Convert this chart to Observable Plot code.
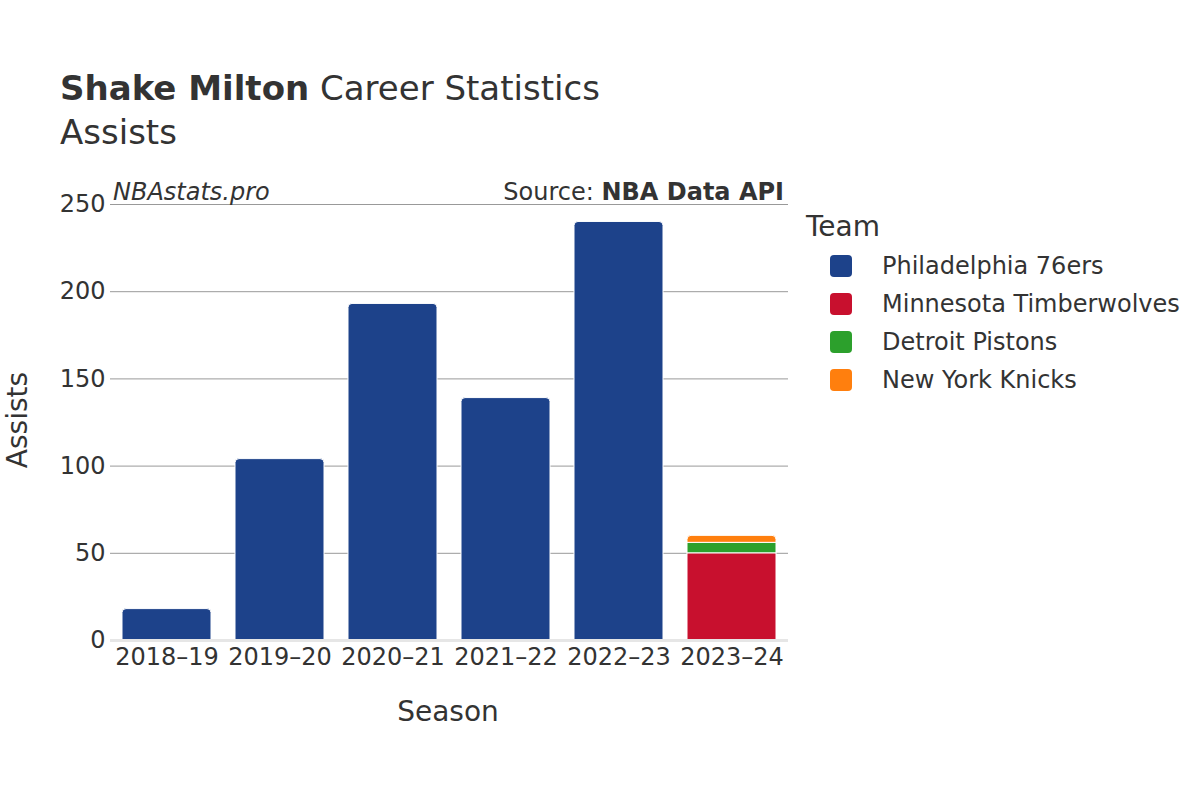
<!DOCTYPE html>
<html><head><meta charset="utf-8">
<script src="https://cdn.jsdelivr.net/npm/d3@7"></script>
<script src="https://cdn.jsdelivr.net/npm/@observablehq/plot@0.6"></script>
<style>
body{margin:0;background:#fff;font-family:"DejaVu Sans",sans-serif;}
#wrap{position:relative;width:1200px;height:800px;}
</style></head><body><div id="wrap"></div>
<script>
const seasons = ["2018–19","2019–20","2020–21","2021–22","2022–23","2023–24"];
const teams = ["Philadelphia 76ers","Minnesota Timberwolves","Detroit Pistons","New York Knicks"];
const teamColors = ["#1D428A","#C8102E","#2CA02C","#FF7F0E"];
const rowSeason = ["2018–19","2019–20","2020–21","2021–22","2022–23","2023–24","2023–24","2023–24"];
const rowTeam = ["Philadelphia 76ers","Philadelphia 76ers","Philadelphia 76ers","Philadelphia 76ers","Philadelphia 76ers","Minnesota Timberwolves","Detroit Pistons","New York Knicks"];
const rowAssists = [18,104,193,139,240,50,6,4];
const yTicks = [0,50,100,150,200,250];

// manual stacking (in input order) so rounded tops can be applied to the top segment only
const base = {};
const data = rowSeason.map((s,i)=>{
  const y1 = base[s] || 0, y2 = y1 + rowAssists[i];
  base[s] = y2;
  return {season:s, team:rowTeam[i], assists:rowAssists[i], y1, y2, top: rowSeason.lastIndexOf(s) === i};
});

const ink = "#333";
const plot = Plot.plot({
  width:1200, height:800,
  marginLeft:110, marginRight:412, marginTop:204, marginBottom:160,
  style:{fontFamily:"DejaVu Sans", fontSize:"24px", color:ink, background:"white"},
  x:{domain:seasons, paddingInner:0.21, paddingOuter:0.1, label:null},
  y:{domain:[0,250], label:null},
  color:{domain:teams, range:teamColors},
  marks:[
    Plot.gridY(yTicks, {stroke:"#999", strokeOpacity:1, strokeWidth:1}),
    Plot.barY(data.filter(d=>!d.top), {x:"season", y1:"y1", y2:"y2", fill:"team", stroke:"white", strokeWidth:1}),
    Plot.barY(data.filter(d=>d.top), {x:"season", y1:"y1", y2:"y2", fill:"team", stroke:"white", strokeWidth:1, ry1:4}),
    Plot.ruleY([0], {stroke:"#e6e6e6", strokeWidth:3}),
    Plot.axisY({ticks:yTicks, tickSize:0, tickPadding:5, fontSize:24, label:null}),
    Plot.axisX({tickSize:0, tickPadding:7, fontSize:24, label:null})
  ]
});
document.getElementById("wrap").appendChild(plot);

const svg = d3.select(plot);
function txt(x,y,str,opts={}){
  const t = svg.append("text").attr("x",x).attr("y",y)
    .attr("fill",ink).attr("font-family","DejaVu Sans")
    .attr("font-size",opts.size||24)
    .attr("text-anchor",opts.anchor||"start");
  if(opts.style) t.attr("font-style",opts.style);
  if(opts.weight) t.attr("font-weight",opts.weight);
  if(opts.transform) t.attr("transform",opts.transform);
  t.text(str);
  return t;
}
// Title
const tt = svg.append("text").attr("x",60).attr("y",100).attr("fill",ink)
  .attr("font-family","DejaVu Sans").attr("font-size",34).attr("text-anchor","start");
tt.append("tspan").attr("font-weight","bold").text("Shake Milton");
tt.append("tspan").text(" Career Statistics");
txt(60,144,"Assists",{size:34});
// credits
txt(113,200,"NBAstats.pro",{style:"italic"});
const src = svg.append("text").attr("x",784).attr("y",200).attr("fill",ink)
  .attr("font-family","DejaVu Sans").attr("font-size",24).attr("text-anchor","end");
src.append("tspan").text("Source: ");
src.append("tspan").attr("font-weight","bold").text("NBA Data API");
// axis titles
txt(448,721,"Season",{size:28,anchor:"middle"});
txt(0,0,"Assists",{size:28,anchor:"middle",transform:"translate(27,420) rotate(-90)"});
// legend
txt(806,236,"Team",{size:28});
teams.forEach((t,i)=>{
  const cy = 266 + i*38;
  svg.append("rect").attr("x",830).attr("y",cy-11).attr("width",22).attr("height",22)
    .attr("rx",4).attr("fill",teamColors[i]);
  txt(882,cy+8,t,{size:24});
});
</script></body></html>
